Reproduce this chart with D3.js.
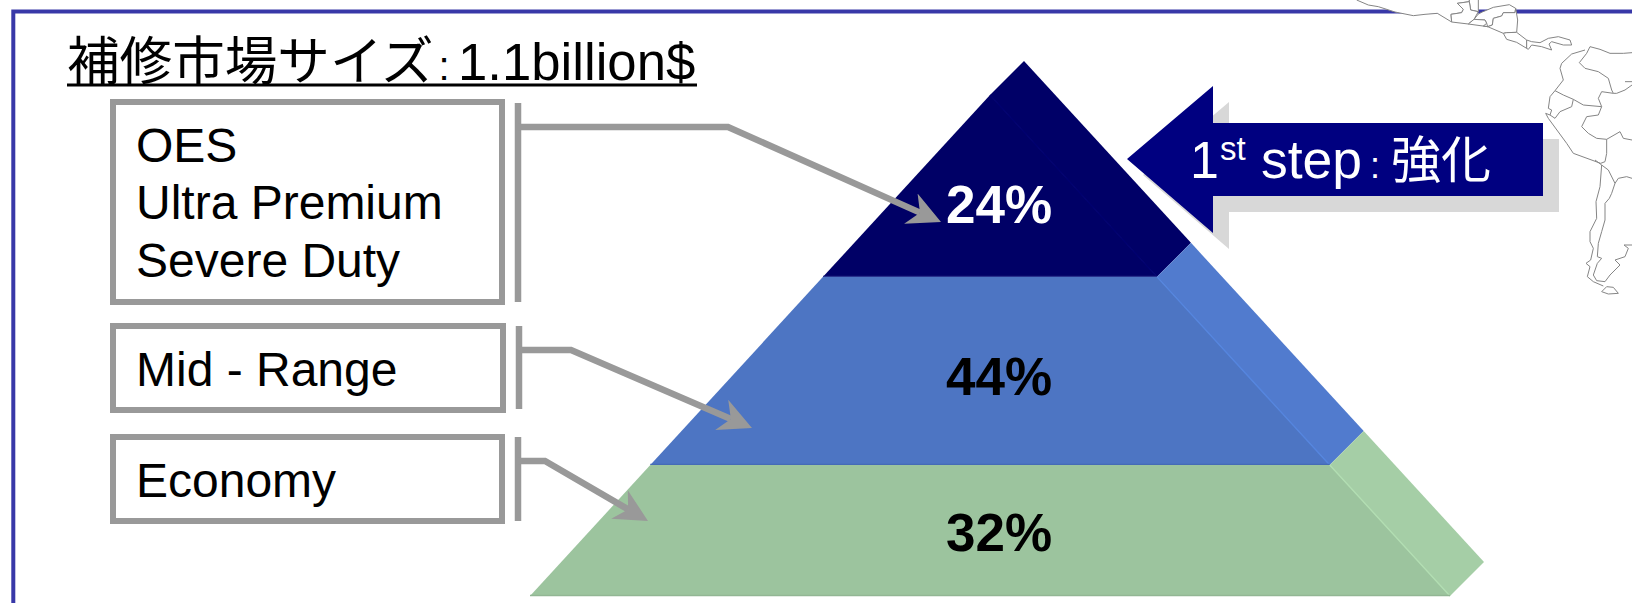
<!DOCTYPE html>
<html lang="ja">
<head>
<meta charset="utf-8">
<title>補修市場サイズ</title>
<script src="https://cdn.jsdelivr.net/npm/d3@7/dist/d3.min.js"></script>
<style>
  html, body { margin: 0; padding: 0; background: #fff; overflow: hidden; }
  svg { display: block; }
  text { font-family: "Liberation Sans", "Noto Sans CJK JP", sans-serif; }
</style>
</head>
<body>
<div id="chart"></div>
<script>
// Aftermarket tiers, top of the pyramid first
const titleJa = "補修市場サイズ";
const titleAmount = "1.1billion$";
const tierLabels = [["OES", "Ultra Premium", "Severe Duty"], ["Mid - Range"], ["Economy"]];
const tierShares = [24, 44, 32];
// Where each tier starts and ends, as a fraction of the pyramid's height
const tierDepths = [0, 0.363, 0.7385, 1];
const calloutText = ["1", "st", "step", ":", "強化"];

// Country borders behind the frame, on a 3-units-per-pixel grid
const centralAmerica = [
  [[20,0],[55,15],[85,20],[135,36],[190,47],[225,43],[262,40],[305,66],[303,43],[335,38],[340,28],[322,10],[358,5],[358,-4],[20,-4]],
  [[358,5],[362,30],[385,35],[385,-4],[358,-4]],
  [[305,66],[303,43],[335,38],[340,28],[322,10],[358,5],[362,30],[385,35],[372,58],[355,72]],
  [[372,58],[385,42],[397,36],[430,22],[478,14],[497,25],[495,38],[460,38],[455,48],[430,55],[427,75],[413,80],[410,70],[405,60]],
  [[355,72],[372,58],[405,60],[410,70],[400,78],[413,80]],
  [[497,25],[503,60],[500,97],[470,98],[460,100],[413,80],[427,75],[430,55],[455,48],[460,38],[495,38]],
  [[460,100],[470,98],[500,97],[530,120],[530,145],[500,127],[470,118]],
  [[530,120],[545,125],[570,128],[595,115],[625,110],[660,120],[665,135],[640,135],[605,125],[597,132],[605,150],[575,140],[545,135],[535,148],[530,145]]
];
const southAmerica = [
  [[720,140],[710,160],[688,188],[705,205],[745,215],[775,235],[785,270],[790,280],[755,275],[745,295],[755,320]],
  [[705,150],[665,162],[635,190],[630,205],[640,240],[615,272],[600,290],[595,325],[605,330],[600,345],[615,355],[630,335],[665,320],[670,298],[640,285],[615,272]],
  [[670,298],[700,315],[755,320],[745,345],[710,350],[695,380],[715,400],[740,415],[770,418],[770,460],[765,485],[752,490],[670,460],[650,430],[595,355],[587,340],[600,345]],
  [[720,140],[750,148],[780,160],[820,160],[846,158]],
  [[825,245],[846,245]],
  [[846,255],[825,270],[800,280],[790,280]],
  [[770,418],[810,395],[820,415],[846,420]],
  [[735,480],[755,495],[750,560],[738,605],[740,655],[720,695],[720,725],[730,745],[722,780],[708,790],[720,800],[712,830],[730,845],[760,858]],
  [[755,495],[775,510],[795,550],[785,580],[778,595],[765,610],[765,660],[755,695],[745,730],[742,770],[755,775],[742,790],[730,825],[740,842],[765,845],[780,825],[810,795],[795,780],[825,770],[835,745],[822,735],[846,735]],
  [[795,550],[805,535],[830,530],[846,535]],
  [[755,875],[770,860],[790,862],[805,880],[775,882],[755,875]]
];

const width = 1632, height = 603;
const svg = d3.select("#chart").append("svg").attr("width", width).attr("height", height);

const ruleBlue = "#3838a8", connectorGrey = "#999999", calloutNavy = "#000080";

// Pyramid geometry: depth to vertical position, depth to half width of the front face
const depthY = d3.scaleLinear().domain([0, 1]).range([95, 596]);
const depthHalf = d3.scaleLinear().domain([0, 1]).range([0, 460]);
const apexX = 990, sideShift = 34;

const tierStyles = [
  { front: "#000066", side: "#000067", seam: "#00006f", base: "#1c1c7c", label: "#ffffff" },
  { front: "#4d75c3", side: "#517bce", seam: "#5585de", base: "#456bb6", label: "#000000" },
  { front: "#9cc49e", side: "#a5cea6", seam: "#b2deb2", base: "#92b694", label: "#000000" }
];

const poly = d3.line();

// Page frame: only the top and left rules are visible
svg.append("path").attr("d", poly([[13.3, height], [13.3, 11.6], [width, 11.6]]))
  .attr("fill", "none").attr("stroke", ruleBlue).attr("stroke-width", 4);

// Map outlines, on white so that they interrupt the frame rule
const mapX = d3.scaleLinear().domain([0, 846]).range([1350, 1632]);
const mapY = d3.scaleLinear().domain([0, 930]).range([0, 310]);
const mapLine = d3.line().x(d => mapX(d[0])).y(d => mapY(d[1]));
const mapGroup = svg.append("g").attr("stroke", "#858585").attr("stroke-width", 1).attr("stroke-linejoin", "round");
mapGroup.selectAll("path.central").data(centralAmerica).join("path").attr("class", "central")
  .attr("d", d => mapLine(d) + "Z").attr("fill", "#fff");
mapGroup.selectAll("path.south").data(southAmerica).join("path").attr("class", "south")
  .attr("d", mapLine).attr("fill", "none");

// Block arrow pointing at the top tier, with its drop shadow
const arrowShape = (dx, dy) => [[1127, 159], [1213, 86], [1213, 123], [1543, 123], [1543, 196], [1213, 196], [1213, 233]]
  .map(([x, y]) => [x + dx, y + dy]);
svg.append("path").attr("d", poly(arrowShape(16, 16)) + "Z").attr("fill", "#d8d8d8");
svg.append("path").attr("d", poly(arrowShape(0, 0)) + "Z").attr("fill", calloutNavy);

// Pyramid tiers, each a front face and a side face
tierShares.forEach((share, i) => {
  const d0 = tierDepths[i], d1 = tierDepths[i + 1];
  const y0 = depthY(d0), y1 = depthY(d1), h0 = depthHalf(d0), h1 = depthHalf(d1);
  const s = tierStyles[i];
  const g = svg.append("g");
  g.append("path").attr("fill", s.side)
    .attr("d", poly([[apexX + h0, y0], [apexX + h0 + sideShift, y0 - sideShift], [apexX + h1 + sideShift, y1 - sideShift], [apexX + h1, y1]]) + "Z");
  g.append("path").attr("fill", s.front)
    .attr("d", poly([[apexX - h0, y0], [apexX + h0, y0], [apexX + h1, y1], [apexX - h1, y1]]) + "Z");
  g.append("line").attr("x1", apexX + h0).attr("y1", y0).attr("x2", apexX + h1).attr("y2", y1)
    .attr("stroke", s.seam).attr("stroke-width", 1.4);
  g.append("line").attr("x1", apexX - h1).attr("y1", y1 - 0.5).attr("x2", apexX + h1).attr("y2", y1 - 0.5)
    .attr("stroke", s.base).attr("stroke-width", 1.4);
});

// Share labels
const shareBaselines = [223, 395, 551];
svg.selectAll("text.share").data(tierShares).join("text").attr("class", "share")
  .attr("x", 999).attr("y", (d, i) => shareBaselines[i])
  .attr("text-anchor", "middle").attr("font-size", 53).attr("font-weight", 700)
  .attr("fill", (d, i) => tierStyles[i].label).text(d => d + "%");

// Tier boxes with their connector arrows
const defs = svg.append("defs");
defs.append("marker").attr("id", "head").attr("markerUnits", "userSpaceOnUse")
  .attr("viewBox", "0 -17 33 34").attr("markerWidth", 33).attr("markerHeight", 34)
  .attr("refX", 10).attr("refY", 0).attr("orient", "auto")
  .append("path").attr("d", "M0,-16.5L33,0L0,16.5L10,0Z").attr("fill", connectorGrey);

const boxes = [
  { x0: 113, x1: 502, y0: 102, y1: 302, bar: 518, barTop: 103, barBottom: 302, bend: [728, 127], tip: [941, 222], baselines: [162, 219, 277] },
  { x0: 113, x1: 503, y0: 326, y1: 410, bar: 519, barTop: 326, barBottom: 409, bend: [571, 350], tip: [752, 428], baselines: [386] },
  { x0: 113, x1: 502, y0: 437, y1: 521, bar: 518, barTop: 437, barBottom: 521, bend: [545, 461], tip: [648, 521], baselines: [497] }
];

boxes.forEach((b, i) => {
  const g = svg.append("g");
  g.append("rect").attr("x", b.x0).attr("y", b.y0).attr("width", b.x1 - b.x0).attr("height", b.y1 - b.y0)
    .attr("fill", "#fff").attr("stroke", connectorGrey).attr("stroke-width", 6);
  g.append("line").attr("x1", b.bar).attr("x2", b.bar).attr("y1", b.barTop).attr("y2", b.barBottom)
    .attr("stroke", connectorGrey).attr("stroke-width", 6.5);
  // The shaft stops at the head's notch so that it does not poke through the tip
  const dx = b.tip[0] - b.bend[0], dy = b.tip[1] - b.bend[1], len = Math.hypot(dx, dy);
  const notch = [b.tip[0] - dx / len * 23, b.tip[1] - dy / len * 23];
  g.append("path").attr("d", poly([[b.bar, b.bend[1]], b.bend, notch]))
    .attr("fill", "none").attr("stroke", connectorGrey).attr("stroke-width", 6.5)
    .attr("marker-end", "url(#head)");
  g.selectAll("text").data(tierLabels[i]).join("text")
    .attr("x", 136).attr("y", (d, j) => b.baselines[j]).attr("font-size", 48).attr("fill", "#000").text(d => d);
});

// Heading, underlined as one run
svg.append("text").attr("x", 67).attr("y", 80).attr("font-size", 52.6).attr("fill", "#000").text(titleJa);
svg.append("text").attr("x", 444).attr("y", 80).attr("font-size", 40).attr("text-anchor", "middle").attr("fill", "#000").text(":");
svg.append("text").attr("x", 458).attr("y", 80).attr("font-size", 52.7).attr("fill", "#000").text(titleAmount);
svg.append("line").attr("x1", 67).attr("x2", 697).attr("y1", 85).attr("y2", 85).attr("stroke", "#000").attr("stroke-width", 3);

// Text inside the block arrow
const calloutPlacement = [
  { x: 1190, y: 178, size: 52 },
  { x: 1220, y: 160, size: 33 },
  { x: 1261, y: 178, size: 53.5 },
  { x: 1375, y: 178, size: 36, anchor: "middle" },
  { x: 1391, y: 178, size: 50 }
];
svg.selectAll("text.callout").data(calloutText).join("text").attr("class", "callout")
  .attr("x", (d, i) => calloutPlacement[i].x).attr("y", (d, i) => calloutPlacement[i].y)
  .attr("font-size", (d, i) => calloutPlacement[i].size)
  .attr("text-anchor", (d, i) => calloutPlacement[i].anchor || "start")
  .attr("fill", "#fff").text(d => d);
</script>
</body>
</html>
